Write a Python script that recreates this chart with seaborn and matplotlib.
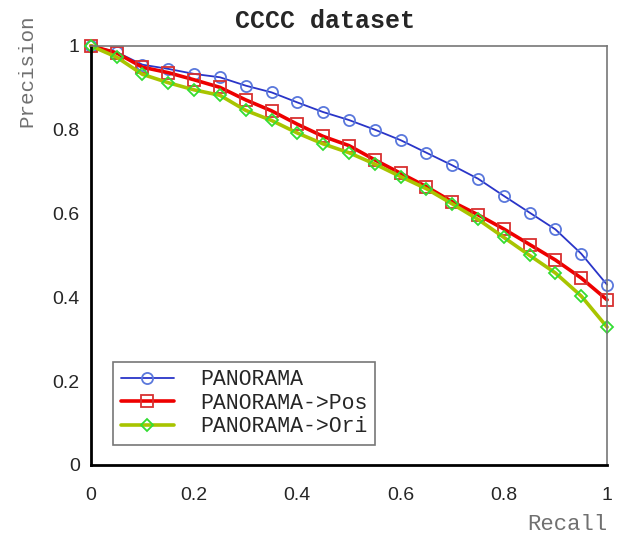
import numpy as np
import pandas as pd
import matplotlib
matplotlib.use("Agg")
import matplotlib.pyplot as plt
import seaborn as sns

# recall points (21 steps) and precision values
recall = [0.0, 0.05, 0.1, 0.15, 0.2, 0.25, 0.3, 0.35, 0.4, 0.45, 0.5,
          0.55, 0.6, 0.65, 0.7, 0.75, 0.8, 0.85, 0.9, 0.95, 1.0]
prec_panorama = [1.0, 0.985, 0.955, 0.945, 0.933, 0.925, 0.905, 0.889, 0.865, 0.842, 0.823,
                 0.800, 0.775, 0.745, 0.715, 0.683, 0.642, 0.602, 0.562, 0.504, 0.430]
prec_pos = [1.0, 0.983, 0.949, 0.936, 0.919, 0.901, 0.871, 0.845, 0.813, 0.784, 0.762,
            0.728, 0.696, 0.664, 0.628, 0.597, 0.563, 0.526, 0.489, 0.446, 0.394]
prec_ori = [1.0, 0.973, 0.932, 0.912, 0.895, 0.882, 0.846, 0.822, 0.792, 0.766, 0.745,
            0.718, 0.688, 0.659, 0.623, 0.586, 0.543, 0.500, 0.458, 0.403, 0.329]
series_names = ["PANORAMA", "PANORAMA->Pos", "PANORAMA->Ori"]
ticks = [0, 0.2, 0.4, 0.6, 0.8, 1]
tick_labels = ["0", "0.2", "0.4", "0.6", "0.8", "1"]

sns.set_style("white")
plt.rcParams["font.family"] = ["Liberation Sans", "DejaVu Sans"]
mono = ["Liberation Mono", "DejaVu Sans Mono"]

fig = plt.figure(figsize=(6.22, 5.36), dpi=100)
ax = fig.add_axes([0.146, 0.1325, 0.83, 0.782])

# style per series: line colour, marker, marker colour, line width
styles = [
    dict(color="#2a35c8", marker="o", markeredgecolor="#5a78dc", linewidth=1.3),
    dict(color="#ee0000", marker="s", markeredgecolor="#d83030", linewidth=2.6),
    dict(color="#a8c400", marker="D", markeredgecolor="#33dd33", linewidth=2.6),
]
data = [prec_panorama, prec_pos, prec_ori]
for name, vals, st in zip(series_names, data, styles):
    df = pd.DataFrame({"Recall": recall, "Precision": vals})
    sns.lineplot(data=df, x="Recall", y="Precision", ax=ax, label=name,
                 color=st["color"], linewidth=st["linewidth"], marker=st["marker"],
                 markersize=8 if st["marker"] != "D" else 6.5,
                 markerfacecolor="none", markeredgecolor=st["markeredgecolor"],
                 markeredgewidth=1.3, clip_on=False)

ax.set_xlim(0, 1)
ax.set_ylim(0, 1)
ax.set_xticks(ticks)
ax.set_xticklabels(tick_labels)
ax.set_yticks(ticks)
ax.set_yticklabels(tick_labels)
ax.tick_params(axis="x", direction="in", length=7, width=2, pad=16, labelsize=14, top=False)
ax.tick_params(axis="y", direction="in", length=7, width=2, pad=8, labelsize=14, right=False)

for side in ["left", "bottom"]:
    ax.spines[side].set_color("black")
    ax.spines[side].set_linewidth(2)
for side in ["top", "right"]:
    ax.spines[side].set_color("#777777")
    ax.spines[side].set_linewidth(1.2)

ax.set_xlabel("Recall", family=mono, fontsize=16, color="#707070", ha="right")
ax.xaxis.set_label_coords(1.0, -0.117)
ax.set_ylabel("Precision", family=mono, fontsize=15, color="#707070", va="center")
ax.yaxis.set_label_coords(-0.124, 0.94)
ax.set_title("CCCC dataset", family=mono, fontsize=18, fontweight="bold", pad=13, x=0.453)

leg = ax.legend(loc="lower left", bbox_to_anchor=(0.043, 0.048), borderaxespad=0,
                prop={"family": mono, "size": 15.5}, frameon=True, fancybox=False,
                handlelength=2.5, handletextpad=1.2, labelspacing=0.12, borderpad=0.35)
leg.get_frame().set_edgecolor("#777777")
leg.get_frame().set_linewidth(1.2)
leg.get_frame().set_alpha(1)

fig.savefig("out.png", dpi=100)
